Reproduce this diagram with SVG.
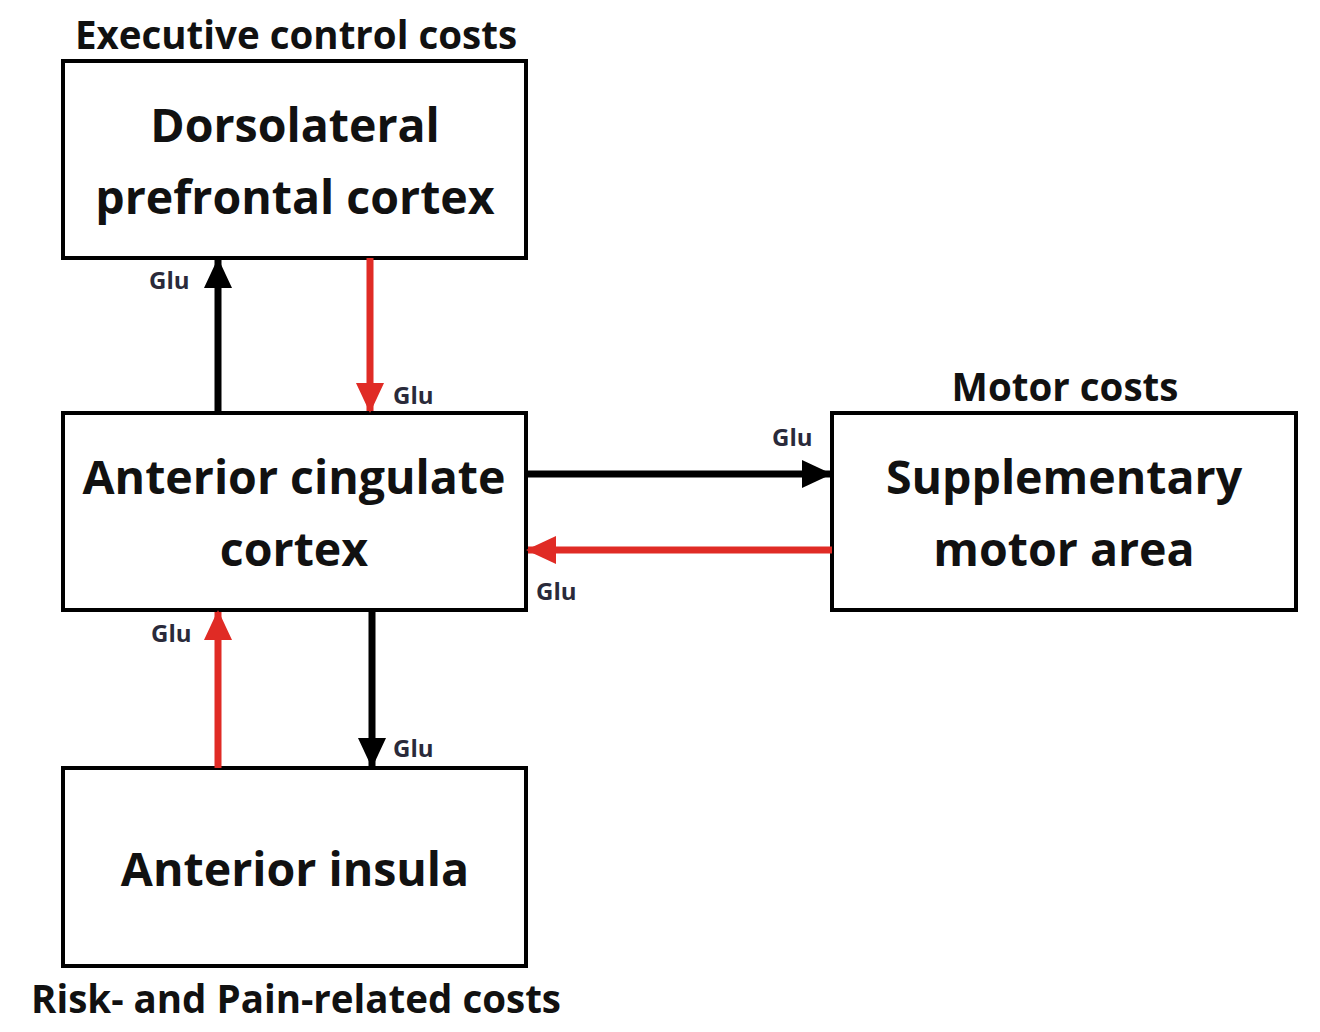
<svg xmlns="http://www.w3.org/2000/svg" width="1320" height="1032" viewBox="0 0 1320 1032">
<defs>
<style>
.box{fill:#fff;stroke:#000;stroke-width:4}
.t{font-family:"Open Sans","Noto Sans","Liberation Sans",sans-serif;font-weight:bold;fill:#111;text-anchor:middle}
.big{font-size:46.5px}
.cap{font-size:38.5px}
.glu{font-family:"Open Sans","Noto Sans","Liberation Sans",sans-serif;font-weight:bold;font-size:24px;fill:#2a2a3a}
.k{stroke:#000;stroke-width:7;fill:none}
.r{stroke:#e02b25;stroke-width:7;fill:none}
</style>
<marker id="ak" markerUnits="userSpaceOnUse" markerWidth="30" markerHeight="30" viewBox="0 0 30 30" refX="28" refY="15" orient="auto"><path d="M0,1 L30,15 L0,29 Z" fill="#000"/></marker>
<marker id="ar" markerUnits="userSpaceOnUse" markerWidth="30" markerHeight="30" viewBox="0 0 30 30" refX="28" refY="15" orient="auto"><path d="M0,1 L30,15 L0,29 Z" fill="#e02b25"/></marker>
</defs>
<rect width="1320" height="1032" fill="#fff"/>
<g id="dlpfc">
<text class="t cap" x="296" y="49">Executive control costs</text>
<rect class="box" x="63" y="61" width="463" height="197"/>
<text class="t big" x="295" y="142">Dorsolateral</text>
<text class="t big" x="295" y="214">prefrontal cortex</text>
</g>
<g id="acc">
<rect class="box" x="63" y="413" width="463" height="197"/>
<text class="t big" x="294" y="494">Anterior cingulate</text>
<text class="t big" x="294" y="566">cortex</text>
</g>
<g id="sma">
<text class="t cap" x="1065" y="401">Motor costs</text>
<rect class="box" x="832" y="413" width="464" height="197"/>
<text class="t big" x="1064" y="494">Supplementary</text>
<text class="t big" x="1064" y="566">motor area</text>
</g>
<g id="insula">
<rect class="box" x="63" y="768" width="463" height="198"/>
<text class="t big" x="295" y="886">Anterior insula</text>
<text class="t cap" x="296" y="1013">Risk- and Pain-related costs</text>
</g>
<g id="connectors">
<line class="k" x1="218" y1="413" x2="218" y2="260" marker-end="url(#ak)"/>
<line class="r" x1="370" y1="258" x2="370" y2="411" marker-end="url(#ar)"/>
<line class="k" x1="526" y1="474" x2="830" y2="474" marker-end="url(#ak)"/>
<line class="r" x1="832" y1="550" x2="528" y2="550" marker-end="url(#ar)"/>
<line class="r" x1="218" y1="768" x2="218" y2="612" marker-end="url(#ar)"/>
<line class="k" x1="372" y1="610" x2="372" y2="766" marker-end="url(#ak)"/>
<text class="glu" x="149" y="289">Glu</text>
<text class="glu" x="393" y="404">Glu</text>
<text class="glu" x="772" y="446">Glu</text>
<text class="glu" x="536" y="600">Glu</text>
<text class="glu" x="151" y="642">Glu</text>
<text class="glu" x="393" y="757">Glu</text>
</g>
</svg>
